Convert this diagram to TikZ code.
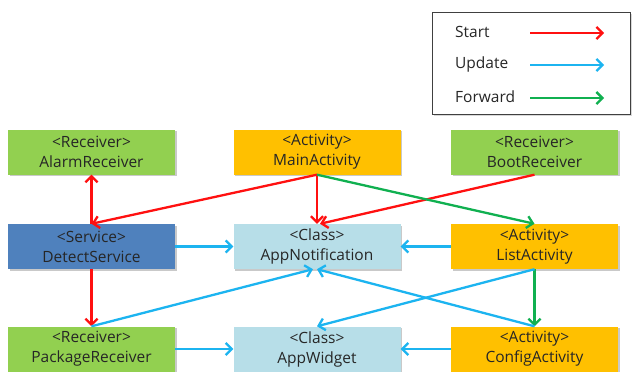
\documentclass[tikz,border=0pt]{standalone}
\usepackage{fontspec}
\setmainfont{Open Sans}
\usetikzlibrary{arrows.meta,shadows}
\definecolor{cgreen}{HTML}{92D050}
\definecolor{corange}{HTML}{FFC000}
\definecolor{cdblue}{HTML}{4F81BD}
\definecolor{clblue}{HTML}{B7DEE8}
\definecolor{ared}{HTML}{FF1010}
\definecolor{ablue}{HTML}{1CB4F0}
\definecolor{agreen}{HTML}{10B050}
\definecolor{ctext}{HTML}{262626}
\tikzset{
  box/.style={minimum width=167pt, minimum height=45pt, inner sep=0pt, align=center,
    text=ctext, font=\fontsize{15.5}{20}\selectfont,
    drop shadow={shadow xshift=1.5pt, shadow yshift=-1.5pt, opacity=0.35, fill=black!60}},
  recv/.style={box, fill=cgreen},
  act/.style={box, fill=corange},
  svc/.style={box, fill=cdblue},
  cls/.style={box, fill=clblue},
  conn/.style={line width=2.3pt, -{Straight Barb[length=6pt,width=12pt,line width=2.3pt]}},
  startA/.style={conn, draw=ared},
  updA/.style={conn, draw=ablue},
  fwdA/.style={conn, draw=agreen},
  legtext/.style={anchor=west, text=ctext, font=\fontsize{15.5}{20}\selectfont, inner sep=0pt}
}
\begin{document}
\begin{tikzpicture}[x=1pt,y=-1pt]
\useasboundingbox[fill=white] (0,0) rectangle (633,372);
% legend
\node[draw=black!75, line width=1.4pt, minimum width=198pt, minimum height=102pt, inner sep=0pt,
  drop shadow={shadow xshift=1.5pt, shadow yshift=-1.5pt, opacity=0.3}, fill=white] (legend) at (531.5,63.5) {};
\node[legtext] (lstart) at (455,32) {Start};
\node[legtext] (lupd) at (455,64) {Update};
\node[legtext] (lfwd) at (455,97) {Forward};
\coordinate (s1) at (530,33); \coordinate (s2) at (604,33);
\coordinate (u1) at (530,65); \coordinate (u2) at (604,65);
\coordinate (f1) at (530,98); \coordinate (f2) at (604,98);
\draw[startA] (s1) -- (s2);
\draw[updA] (u1) -- (u2);
\draw[fwdA] (f1) -- (f2);
% boxes
\node[recv] (alarm) at (91.5,152) {<Receiver>\\AlarmReceiver};
\node[act] (main) at (317,152) {<Activity>\\MainActivity};
\node[recv] (boot) at (534.5,152) {<Receiver>\\BootReceiver};
\node[svc] (detect) at (91.5,246.5) {<Service>\\DetectService};
\node[cls] (notif) at (317,246.5) {<Class>\\AppNotification};
\node[act] (list) at (534.5,246.5) {<Activity>\\ListActivity};
\node[recv] (pkg) at (91.5,349) {<Receiver>\\PackageReceiver};
\node[cls] (widget) at (317,349) {<Class>\\AppWidget};
\node[act] (config) at (534.5,349) {<Activity>\\ConfigActivity};
% start (red)
\draw[startA] (detect.north) -- (alarm.south);
\draw[startA] (main.south) -- (detect.north);
\draw[startA] (main.south) -- (notif.north);
\draw[startA] (boot.south) -- ([xshift=3pt]notif.north);
\draw[startA] (detect.south) -- (pkg.north);
% forward (green)
\draw[fwdA] (main.south) -- (list.north);
\draw[fwdA] (list.south) -- (config.north);
% update (blue)
\draw[updA] (detect.east) -- (notif.west);
\draw[updA] (list.west) -- (notif.east);
\draw[updA] (pkg.east) -- (widget.west);
\draw[updA] (config.west) -- (widget.east);
\draw[updA] (pkg.north) -- ([xshift=-4pt]notif.south);
\draw[updA] (config.north) -- (notif.south);
\draw[updA] (list.south) -- (widget.north);
\end{tikzpicture}
\end{document}
